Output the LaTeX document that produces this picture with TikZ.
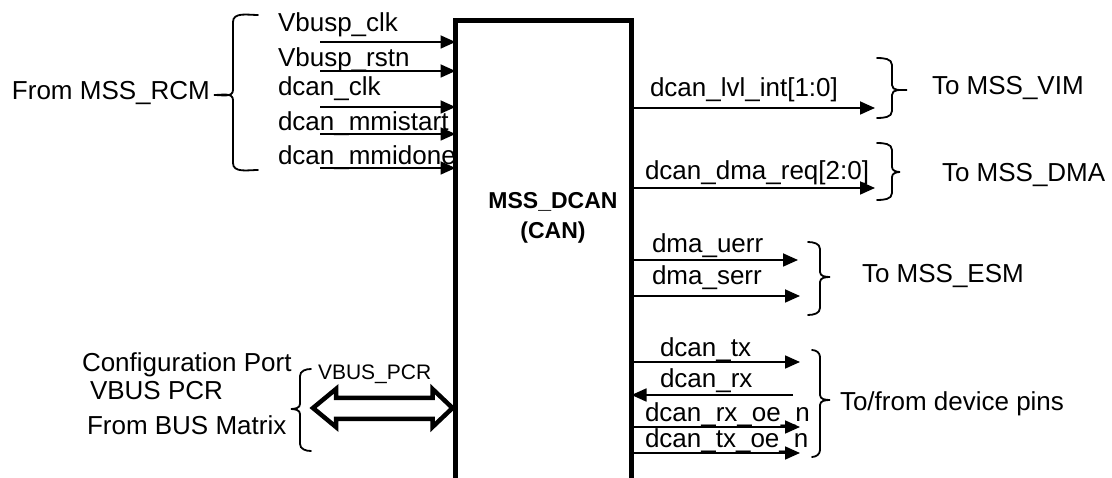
\documentclass[tikz,border=0pt]{standalone}
\usepackage{fontspec}
\setmainfont{Liberation Sans}
\usetikzlibrary{arrows.meta,calc}

% brace opening to the right, tip pointing left: vertical x, hook end x, top, bottom, tip x, tip y
\newcommand\BraceTipLeft[6]{%
  \draw[brc] (#2,#3) to[out=180,in=90] (#1,#3+7) -- (#1,#6-5)
    to[out=-90,in=0] (#5,#6) to[out=0,in=90] (#1,#6+5) -- (#1,#4-7)
    to[out=-90,in=180] (#2,#4);}
% brace opening to the left, tip pointing right
\newcommand\BraceTipRight[6]{%
  \draw[brc] (#2,#3) to[out=0,in=90] (#1,#3+7) -- (#1,#6-5)
    to[out=-90,in=180] (#5,#6) to[out=180,in=90] (#1,#6+5) -- (#1,#4-7)
    to[out=-90,in=0] (#2,#4);}

\tikzset{
  sig/.style={line width=1.8pt, -{Triangle[length=15pt,width=13pt]}},
  brc/.style={line width=1.8pt, line cap=round},
  lbl/.style={inner sep=0pt, outer sep=0pt, anchor=base west,
              font=\fontsize{26}{30}\selectfont},
  small/.style={inner sep=0pt, outer sep=0pt, anchor=base west,
              font=\fontsize{21}{25}\selectfont},
  busarrow/.style={line width=4.5pt, miter limit=10, fill=white},
}

\begin{document}
\begin{tikzpicture}[x=1pt,y=-1pt]
\useasboundingbox (0,0) rectangle (1112,478);

% the DCAN block (open at the bottom)
\node[draw=none, inner sep=0pt, outer sep=0pt, anchor=north west,
      minimum width=176pt, minimum height=470pt] (dcan) at (455.5,20.5) {};
\draw[line width=5pt, miter limit=10]
  (dcan.west |- 0,478) -- (dcan.north west) -- (dcan.north east) -- (dcan.east |- 0,478);
\node[inner sep=0pt, align=center, font=\bfseries\fontsize{23}{30}\selectfont]
  (dcanname) at (553,218) {MSS\_DCAN\\(CAN)};

% inputs from the reset/clock module
\node[lbl] (t1) at (278,32)  {Vbusp\_clk};
\node[lbl] (t2) at (278,67)  {Vbusp\_rstn};
\node[lbl] (t3) at (278,96)  {dcan\_clk};
\node[lbl] (t4) at (278,131) {dcan\_mmistart};
\node[lbl] (t5) at (278,165) {dcan\_mmidone};
\coordinate (i1) at (320,42);
\coordinate (i2) at (320,71);
\coordinate (i3) at (320,107);
\coordinate (i4) at (320,134);
\coordinate (i5) at (320,168);
\foreach \c in {i1,i2,i3,i4,i5}
  \draw[sig] (\c) -- (\c -| dcan.west);
\node[lbl] (rcm) at (12,100) {From MSS\_RCM};
\BraceTipLeft{233}{258}{15}{170}{214}{95}

% configuration port
\node[lbl] (cfg1) at (82,372) {Configuration Port};
\node[lbl] (cfg2) at (90,400) {VBUS PCR};
\node[lbl] (cfg3) at (87,435) {From BUS Matrix};
\BraceTipLeft{300}{311}{369}{451}{291}{409}
\node[small] (pcr) at (318,380) {VBUS\_PCR};
\coordinate (pcrL) at (313,408);
\coordinate (pcrR) at ($(pcrL -| dcan.west)+(-3,0)$);
\draw[busarrow] (pcrL) -- ++(23,-19) -- ++(0,9)
  -- ($(pcrR)+(-20,-10)$) -- ++(0,-9) -- (pcrR) -- ++(-20,19) -- ++(0,-8)
  -- ($(pcrL)+(23,11)$) -- ++(0,8) -- cycle;

% interrupt and DMA outputs
\node[lbl] (o1) at (650,97)  {dcan\_lvl\_int[1:0]};
\node[lbl] (o2) at (645,180) {dcan\_dma\_req[2:0]};
\coordinate (e1) at (875,108);
\coordinate (e2) at (875,188);
\draw[sig] (e1 -| dcan.east) -- (e1);
\draw[sig] (e2 -| dcan.east) -- (e2);
\BraceTipRight{892}{877}{58}{118}{907}{90}
\BraceTipRight{892}{877}{143}{200}{900}{172}
\node[lbl] (vim) at (932,95)  {To MSS\_VIM};
\node[lbl] (dma) at (942,182) {To MSS\_DMA};

% error outputs
\node[lbl] (o3) at (652,253) {dma\_uerr};
\node[lbl] (o4) at (652,285) {dma\_serr};
\coordinate (e3) at (798,260);
\coordinate (e4) at (800,296);
\draw[sig] (e3 -| dcan.east) -- (e3);
\draw[sig] (e4 -| dcan.east) -- (e4);
\BraceTipRight{820}{808}{242}{315}{830}{277}
\node[lbl] (esm) at (862,283) {To MSS\_ESM};

% device pins
\node[lbl] (o5) at (660,357) {dcan\_tx};
\node[lbl] (o6) at (660,388) {dcan\_rx};
\node[lbl] (o7) at (645,421) {dcan\_rx\_oe\_n};
\node[lbl] (o8) at (645,448) {dcan\_tx\_oe\_n};
\coordinate (e5) at (800,362);
\coordinate (e6) at (793,395);
\coordinate (e7) at (800,427);
\coordinate (e8) at (800,453);
\draw[sig] (e5 -| dcan.east) -- (e5);
\draw[sig] (e6) -- (e6 -| dcan.east);
\draw[sig] (e7 -| dcan.east) -- (e7);
\draw[sig] (e8 -| dcan.east) -- (e8);
\BraceTipRight{820}{812}{350}{457}{830}{400}
\node[lbl] (pins) at (840,410) {To/from device pins};
\end{tikzpicture}
\end{document}
